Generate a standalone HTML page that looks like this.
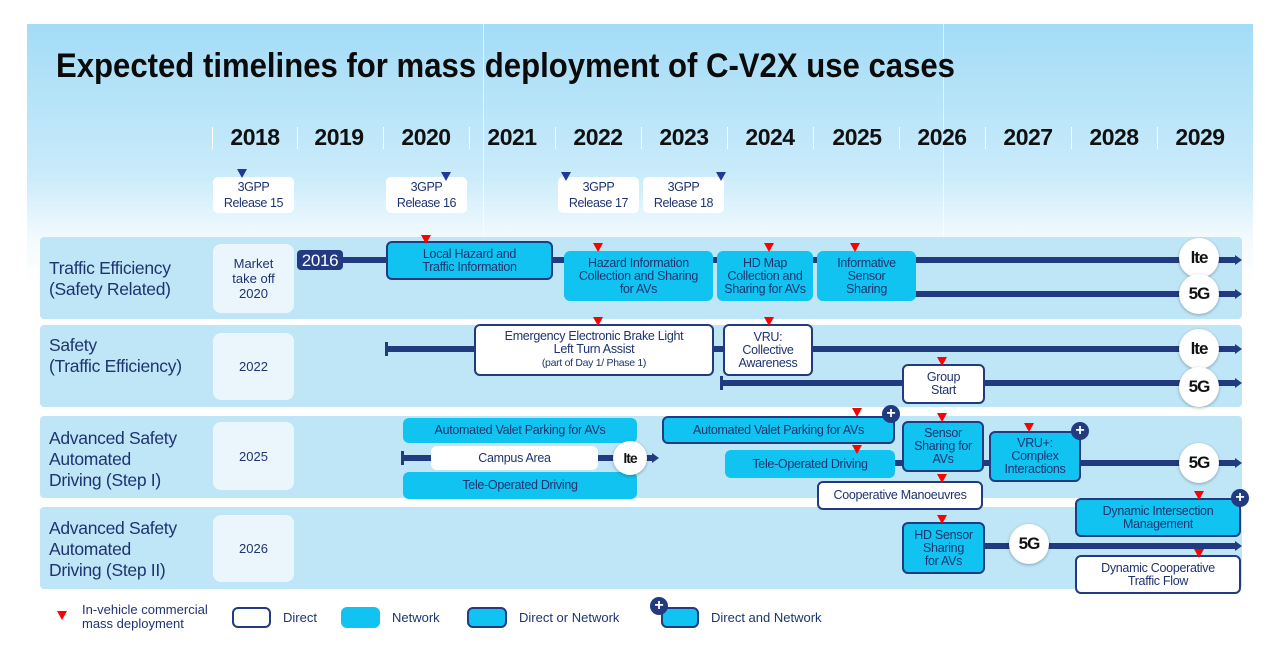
<!DOCTYPE html>
<html><head><meta charset="utf-8">
<style>
*{margin:0;padding:0;box-sizing:border-box}
body{width:1268px;height:656px;background:#fff;position:relative;overflow:hidden;font-family:"Liberation Sans",sans-serif;color:#1f3370}
.bg{position:absolute;left:27px;top:24px;width:1226px;height:632px;background:linear-gradient(#a3dcf7 0px,#c9ebfa 150px,#f3fafe 215px,#ffffff 260px)}
.vl{position:absolute;top:24px;width:1px;height:570px;background:rgba(255,255,255,.6)}
.yr{position:absolute;top:124px;width:80px;margin-left:-40px;text-align:center;font-size:23px;font-weight:bold;color:#111;letter-spacing:-0.5px}
.sep{position:absolute;top:127px;width:1px;height:22px;background:#fff}
.rel{position:absolute;top:177px;width:81px;height:36px;background:#fff;border-radius:5px;font-size:12.5px;text-align:center;line-height:16px;padding-top:2px;color:#1f3370;letter-spacing:-0.4px}
.band{position:absolute;left:40px;width:1202px;height:82px;background:#bfe6f7;border-radius:4px}
.rl{position:absolute;left:49px;font-size:17.5px;line-height:21px;color:#1f3370;letter-spacing:-0.3px}
.lb{position:absolute;left:213px;width:81px;background:#eaf6fc;border-radius:8px;font-size:13px;display:flex;align-items:center;justify-content:center;text-align:center;line-height:15px}
.ln{position:absolute;height:6px;background:#213a80}
.ar{position:absolute;width:0;height:0;border-top:5px solid transparent;border-bottom:5px solid transparent;border-left:7px solid #213a80}
.bx{position:absolute;border-radius:6px;display:flex;align-items:center;justify-content:center;text-align:center;font-size:12.5px;line-height:13px;letter-spacing:-0.3px;color:#1f3370}
.c{background:#10c3f0}
.cb{background:#10c3f0;border:2.5px solid #213a80}
.w{background:#fff;border:2.5px solid #213a80}
.t{position:absolute;width:0;height:0;border-left:5px solid transparent;border-right:5px solid transparent;border-top:9px solid #f00;margin-left:-5px}
.tb{position:absolute;width:0;height:0;border-left:5px solid transparent;border-right:5px solid transparent;border-top:9px solid #213a9a;margin-left:-5px}
.pl{position:absolute;width:18px;height:18px;border-radius:50%;background:#213a80;color:#fff;font-size:16px;font-weight:bold;line-height:18px;text-align:center;margin:-9px 0 0 -9px}
.ci{position:absolute;width:40px;height:40px;border-radius:50%;background:#fff;margin:-20px 0 0 -20px;box-shadow:0 1px 3px rgba(0,0,0,.3);text-align:center;font-weight:bold;color:#111;line-height:40px;font-size:17px;letter-spacing:-1px}
.lg{position:absolute;font-size:13px;color:#1f3370}
</style></head><body>
<div class="bg"></div>
<div class="vl" style="left:483px"></div>
<div class="vl" style="left:943px"></div>
<svg style="position:absolute;left:0;top:0" width="1268" height="100"><text x="56" y="77" font-family="Liberation Sans" font-weight="bold" font-size="34" fill="#0b0b0b" textLength="899" lengthAdjust="spacingAndGlyphs">Expected timelines for mass deployment of C-V2X use cases</text></svg>

<div class="sep" style="left:212px"></div><div class="sep" style="left:297px"></div><div class="sep" style="left:383px"></div><div class="sep" style="left:469px"></div><div class="sep" style="left:555px"></div><div class="sep" style="left:641px"></div><div class="sep" style="left:727px"></div><div class="sep" style="left:813px"></div><div class="sep" style="left:899px"></div><div class="sep" style="left:985px"></div><div class="sep" style="left:1071px"></div><div class="sep" style="left:1157px"></div>
<div class="yr" style="left:255px">2018</div><div class="yr" style="left:339px">2019</div><div class="yr" style="left:426px">2020</div><div class="yr" style="left:512px">2021</div><div class="yr" style="left:598px">2022</div><div class="yr" style="left:684px">2023</div><div class="yr" style="left:770px">2024</div><div class="yr" style="left:857px">2025</div><div class="yr" style="left:942px">2026</div><div class="yr" style="left:1028px">2027</div><div class="yr" style="left:1114px">2028</div><div class="yr" style="left:1200px">2029</div>

<div class="rel" style="left:213px">3GPP<br>Release 15</div>
<div class="rel" style="left:386px">3GPP<br>Release 16</div>
<div class="rel" style="left:558px">3GPP<br>Release 17</div>
<div class="rel" style="left:643px">3GPP<br>Release 18</div>
<div class="tb" style="left:242px;top:169px"></div><div class="tb" style="left:446px;top:172px"></div><div class="tb" style="left:566px;top:172px"></div><div class="tb" style="left:721px;top:172px"></div>

<div class="band" style="top:237px"></div>
<div class="band" style="top:325px"></div>
<div class="band" style="top:416px"></div>
<div class="band" style="top:507px"></div>
<div class="rl" style="top:258px">Traffic Efficiency<br>(Safety Related)</div>
<div class="rl" style="top:335px">Safety<br>(Traffic Efficiency)</div>
<div class="rl" style="top:428px">Advanced Safety<br>Automated<br>Driving (Step I)</div>
<div class="rl" style="top:518px">Advanced Safety<br>Automated<br>Driving (Step II)</div>
<div class="lb" style="top:244px;height:69px"><div>Market<br>take off<br>2020</div></div>
<div class="lb" style="top:333px;height:67px">2022</div>
<div class="lb" style="top:422px;height:68px">2025</div>
<div class="lb" style="top:515px;height:67px">2026</div>

<!-- row1 -->
<div class="ln" style="left:300px;top:257px;width:935px"></div><div class="ar" style="left:1235px;top:255px"></div>
<div class="ln" style="left:914px;top:291px;width:321px"></div><div class="ar" style="left:1235px;top:289px"></div>
<div class="bx" style="left:297px;top:250px;width:46px;height:20px;background:#213a80;color:#fff;font-size:17px;border-radius:4px">2016</div>
<div class="bx cb" style="left:386px;top:241px;width:167px;height:39px"><div>Local Hazard and<br>Traffic Information</div></div>
<div class="bx c" style="left:564px;top:251px;width:149px;height:50px"><div>Hazard Information<br>Collection and Sharing<br>for AVs</div></div>
<div class="bx c" style="left:717px;top:251px;width:96px;height:50px"><div>HD Map<br>Collection and<br>Sharing for AVs</div></div>
<div class="bx c" style="left:817px;top:251px;width:99px;height:50px"><div>Informative<br>Sensor<br>Sharing</div></div>
<!-- row2 -->
<div class="ln" style="left:386px;top:346px;width:849px"></div><div class="ar" style="left:1235px;top:344px"></div>
<div style="position:absolute;left:385px;top:342px;width:3px;height:14px;background:#213a80"></div>
<div class="ln" style="left:721px;top:380px;width:514px"></div><div class="ar" style="left:1235px;top:378px"></div>
<div style="position:absolute;left:720px;top:376px;width:3px;height:14px;background:#213a80"></div>
<div class="bx w" style="left:474px;top:324px;width:240px;height:52px"><div>Emergency Electronic Brake Light<br>Left Turn Assist<br><span style="font-size:10.5px">(part of Day 1/ Phase 1)</span></div></div>
<div class="bx w" style="left:723px;top:324px;width:90px;height:52px"><div>VRU:<br>Collective<br>Awareness</div></div>
<div class="bx w" style="left:902px;top:364px;width:83px;height:40px"><div>Group<br>Start</div></div>
<!-- row3 -->
<div class="ln" style="left:402px;top:455px;width:250px"></div><div class="ar" style="left:652px;top:453px"></div>
<div style="position:absolute;left:401px;top:451px;width:3px;height:14px;background:#213a80"></div>
<div class="bx c" style="left:403px;top:418px;width:234px;height:25px">Automated Valet Parking for AVs</div>
<div class="bx" style="left:431px;top:446px;width:167px;height:24px;background:#fff">Campus Area</div>
<div class="bx c" style="left:403px;top:472px;width:234px;height:27px">Tele-Operated Driving</div>
<div class="ln" style="left:895px;top:460px;width:340px"></div><div class="ar" style="left:1235px;top:458px"></div>
<div class="bx cb" style="left:662px;top:416px;width:233px;height:28px">Automated Valet Parking for AVs</div>
<div class="bx c" style="left:725px;top:450px;width:170px;height:28px">Tele-Operated Driving</div>
<div class="bx cb" style="left:902px;top:421px;width:82px;height:51px"><div>Sensor<br>Sharing for<br>AVs</div></div>
<div class="bx cb" style="left:989px;top:431px;width:92px;height:51px"><div>VRU+:<br>Complex<br>Interactions</div></div>
<div class="bx w" style="left:817px;top:481px;width:166px;height:29px">Cooperative Manoeuvres</div>
<!-- row4 -->
<div class="ln" style="left:985px;top:543px;width:250px"></div><div class="ar" style="left:1235px;top:541px"></div>
<div class="bx cb" style="left:902px;top:522px;width:83px;height:52px"><div>HD Sensor<br>Sharing<br>for AVs</div></div>
<div class="bx cb" style="left:1075px;top:498px;width:166px;height:39px"><div>Dynamic Intersection<br>Management</div></div>
<div class="bx w" style="left:1075px;top:555px;width:166px;height:39px"><div>Dynamic Cooperative<br>Traffic Flow</div></div>

<div class="pl" style="left:891px;top:414px">+</div>
<div class="pl" style="left:1080px;top:431px">+</div>
<div class="pl" style="left:1240px;top:498px">+</div>

<div class="ci" style="left:1199px;top:258px">lte</div>
<div class="ci" style="left:1199px;top:294px">5G</div>
<div class="ci" style="left:1199px;top:349px">lte</div>
<div class="ci" style="left:1199px;top:387px">5G</div>
<div class="ci" style="left:630px;top:458px;width:34px;height:34px;margin:-17px 0 0 -17px;line-height:34px;font-size:14px">lte</div>
<div class="ci" style="left:1199px;top:463px">5G</div>
<div class="ci" style="left:1029px;top:544px">5G</div>

<div class="t" style="left:426px;top:235px"></div>
<div class="t" style="left:598px;top:243px"></div>
<div class="t" style="left:769px;top:243px"></div>
<div class="t" style="left:855px;top:243px"></div>
<div class="t" style="left:598px;top:317px"></div>
<div class="t" style="left:769px;top:317px"></div>
<div class="t" style="left:942px;top:357px"></div>
<div class="t" style="left:857px;top:408px"></div>
<div class="t" style="left:942px;top:413px"></div>
<div class="t" style="left:857px;top:445px"></div>
<div class="t" style="left:942px;top:474px"></div>
<div class="t" style="left:1029px;top:423px"></div>
<div class="t" style="left:1199px;top:491px"></div>
<div class="t" style="left:942px;top:515px"></div>
<div class="t" style="left:1199px;top:549px"></div>

<!-- legend -->
<div class="t" style="left:62px;top:611px"></div>
<div class="lg" style="left:82px;top:603px;line-height:14px">In-vehicle commercial<br>mass deployment</div>
<div class="bx w" style="left:232px;top:607px;width:39px;height:21px"></div><div class="lg" style="left:283px;top:610px">Direct</div>
<div class="bx c" style="left:341px;top:607px;width:39px;height:21px"></div><div class="lg" style="left:392px;top:610px">Network</div>
<div class="bx cb" style="left:467px;top:607px;width:40px;height:21px"></div><div class="lg" style="left:519px;top:610px">Direct or Network</div>
<div class="bx cb" style="left:661px;top:607px;width:38px;height:21px"></div><div class="pl" style="left:659px;top:606px">+</div><div class="lg" style="left:711px;top:610px">Direct and Network</div>
</body></html>
